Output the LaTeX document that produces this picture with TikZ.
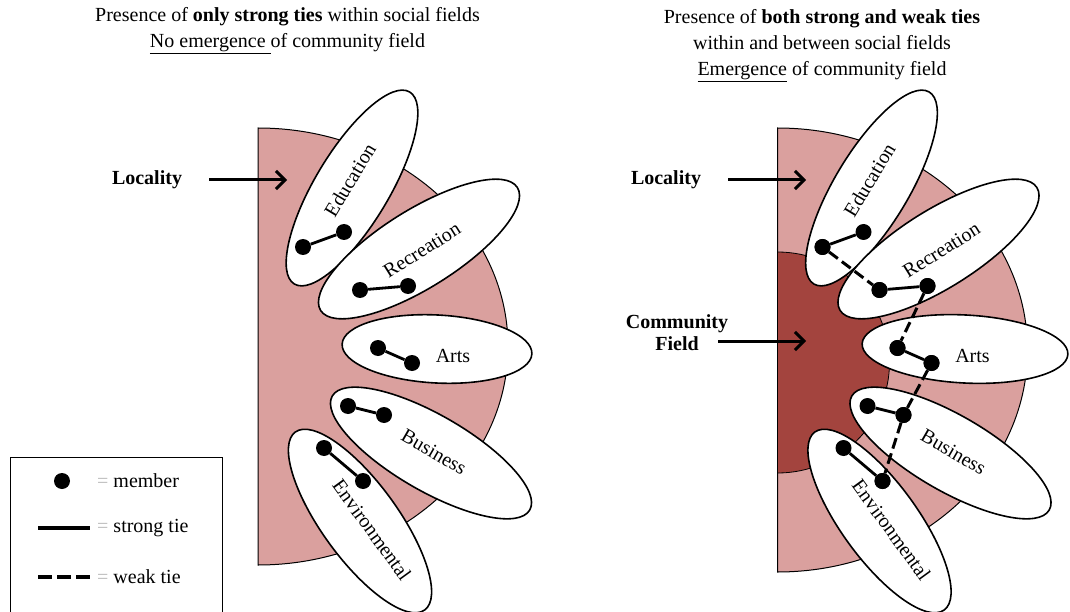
\documentclass[tikz,border=0pt]{standalone}
\usepackage{fontspec}
\setmainfont{Liberation Serif}
\usetikzlibrary{shapes.geometric,arrows.meta}

\definecolor{fieldpink}{RGB}{218,160,158}
\definecolor{commred}{RGB}{163,68,62}
\definecolor{eqgray}{RGB}{185,185,185}

\tikzset{
  txt/.style={font=\fontsize{20}{26}\selectfont, inner sep=0pt},
  heading/.style={txt, align=center},
  bigarrow/.style={line width=3pt, -{Straight Barb[length=9pt,width=18pt]}},
  locality/.style={draw=black, line width=1pt, fill=fieldpink},
  community/.style={draw=black, line width=0.8pt, fill=commred},
  socfield/.style={ellipse, draw=black, line width=1.6pt, fill=white, inner sep=0pt},
  member/.style={circle, fill=black, inner sep=0pt, minimum size=16pt},
  strongtie/.style={line width=2.8pt},
  weaktie/.style={line width=3pt, dash pattern=on 11pt off 5pt},
}

% the locality: a half ellipse cut by a vertical edge (#1 = its vertical radius)
\newcommand\localityshape[1]{%
  \path[locality] (258,128) arc[start angle=-90, end angle=90, x radius=250, y radius=#1] -- cycle;
}

% the five social fields, their members and strong ties
% (#1 = centre x of the arts field, #2 = its length)
\newcommand\socialfields[2]{%
  \node[socfield, minimum width=224pt, minimum height=74pt, rotate=59]  (edu)  at (352,188) {};
  \node[socfield, minimum width=232pt, minimum height=78pt, rotate=32]  (rec)  at (419,249) {};
  \node[socfield, minimum width=#2pt, minimum height=68pt, rotate=-3]   (arts) at (#1,349) {};
  \node[socfield, minimum width=228pt, minimum height=76pt, rotate=-30] (bus)  at (431,453) {};
  \node[socfield, minimum width=220pt, minimum height=76pt, rotate=-54] (env)  at (360,521) {};
  \node[txt, rotate=59]  (edu-t)  at (350,180) {Education};
  \node[txt, rotate=32]  (rec-t)  at (422,250) {Recreation};
  \node[txt]             (arts-t) at (453,356) {Arts};
  \node[txt, rotate=-30] (bus-t)  at (434,452) {Business};
  \node[txt, rotate=-54] (env-t)  at (372,530) {Environmental};
  \node[member] (edu1)  at (303,247) {};
  \node[member] (edu2)  at (344,232) {};
  \node[member] (rec1)  at (360,290) {};
  \node[member] (rec2)  at (408,286) {};
  \node[member] (arts1) at (378,348) {};
  \node[member] (arts2) at (412,363) {};
  \node[member] (bus1)  at (348,406) {};
  \node[member] (bus2)  at (384,415) {};
  \node[member] (env1)  at (324,448) {};
  \node[member] (env2)  at (363,481) {};
  \draw[strongtie] (edu1) -- (edu2);
  \draw[strongtie] (rec1) -- (rec2);
  \draw[strongtie] (arts1) -- (arts2);
  \draw[strongtie] (bus1) -- (bus2);
  \draw[strongtie] (env1) -- (env2);
}

\begin{document}
\begin{tikzpicture}[x=1pt, y=-1pt]
\useasboundingbox (0,0) rectangle (1070,612);
\clip (0,0) rectangle (1070,612);

% ---------- left panel: only strong ties ----------
\node[heading] (titleL) at (287.5,31) {Presence of \textbf{only strong ties} within social fields\\\underline{No emergence\ }of community field};
\begin{scope}[name prefix=L-]
  \localityshape{218.5}
  \socialfields{437}{190}
\end{scope}
\node[txt, font=\fontsize{20}{26}\selectfont\bfseries] (locL) at (147,180) {Locality};
\coordinate (locL-tip) at (287,180);
\draw[bigarrow] ([xshift=27pt]locL.east) -- (locL-tip);

% ---------- right panel: strong and weak ties ----------
\node[heading] (titleR) at (822,45.5) {Presence of \textbf{both strong and weak ties}\\within and between social fields\\\underline{Emergence} of community field};
\begin{scope}[xshift=519.5pt, name prefix=R-]
  \localityshape{222}
  \path[community] (258,252) arc[start angle=-90, end angle=90, x radius=112, y radius=110.5] -- cycle;
  \socialfields{445.5}{206}
  \draw[weaktie] (edu1) -- (rec1);
  \draw[weaktie] (rec2) -- (arts1);
  \draw[weaktie] (arts2) -- (bus2);
  \draw[weaktie] (bus2) -- (env2);
  \node[member] at (edu1) {};
  \node[member] at (rec1) {};
  \node[member] at (rec2) {};
  \node[member] at (arts1) {};
  \node[member] at (arts2) {};
  \node[member] at (bus2) {};
  \node[member] at (env2) {};
\end{scope}
\node[txt, font=\fontsize{20}{26}\selectfont\bfseries] (locR) at (666,180) {Locality};
\coordinate (locR-tip) at (806,180);
\draw[bigarrow] ([xshift=27pt]locR.east) -- (locR-tip);
\node[txt, align=center, font=\fontsize{20}{22}\selectfont\bfseries] (comm) at (677,333) {Community\\Field};
\coordinate (comm-start) at (718,341);
\coordinate (comm-tip) at (806,341);
\draw[bigarrow] (comm-start) -- (comm-tip);

% ---------- legend ----------
\node[draw, line width=1pt, minimum width=212pt, minimum height=170pt, anchor=north west, inner sep=0pt] (legend) at (10,457) {};
\node[member] (key-dot) at (62,481) {};
\node[txt, anchor=west] (key-m) at (97,481) {\textcolor{eqgray}{=} member};
\coordinate (key-s1) at (38,528);
\coordinate (key-s2) at (90,528);
\draw[line width=3.5pt] (key-s1) -- (key-s2);
\node[txt, anchor=west] (key-s) at (97,528) {\textcolor{eqgray}{=} strong tie};
\coordinate (key-w1) at (38,577);
\coordinate (key-w2) at (90,577);
\draw[line width=3.5pt, dash pattern=on 14pt off 5pt] (key-w1) -- (key-w2);
\node[txt, anchor=west] (key-w) at (97,577) {\textcolor{eqgray}{=} weak tie};
\end{tikzpicture}
\end{document}
